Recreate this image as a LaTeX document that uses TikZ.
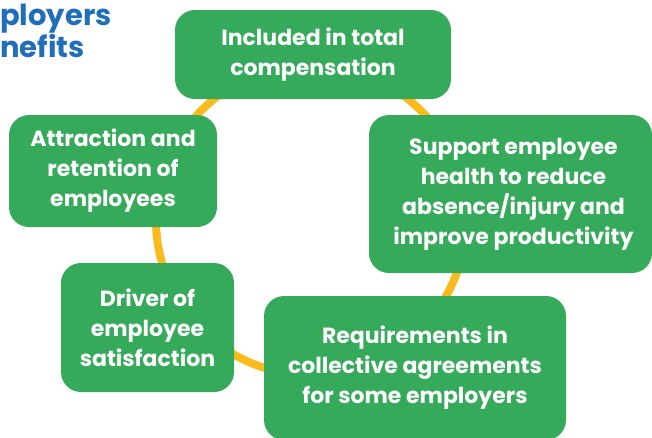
\documentclass[tikz,border=0pt]{standalone}
\usepackage{fontspec}
\setmainfont{Poppins}
\definecolor{boxgreen}{RGB}{52,170,90}
\definecolor{ringorange}{RGB}{251,186,30}
\definecolor{titleblue}{RGB}{31,110,185}
\begin{document}
\begin{tikzpicture}[x=1pt,y=-1pt,
  card/.style={fill=boxgreen, rounded corners=20pt, text=white, align=center,
    font=\fontsize{22}{30}\selectfont\bfseries, inner sep=0pt},
  ttl/.style={text=titleblue, font=\fontsize{29}{32}\selectfont\bfseries, anchor=base west, inner sep=0pt}]
\useasboundingbox (0,0) rectangle (652,437);
\clip (0,0) rectangle (652,437);
\node[ttl] (t1) at (0,25) {ployers};
\node[ttl] (t2) at (0,57) {nefits};
\draw[ringorange, line width=8pt] (311,220) circle[radius=155];
\node[card, minimum width=276pt, minimum height=89pt] (top) at (313,54.5) {Included in total\\compensation};
\node[card, minimum width=208pt, minimum height=112pt] (attr) at (113,171) {Attraction and\\retention of\\employees};
\node[card, minimum width=283pt, minimum height=158pt] (supp) at (510.5,194) {\hspace*{6pt}Support employee\\\hspace*{6pt}health to reduce\\\hspace*{6pt}absence/injury and\\\hspace*{6pt}improve productivity};
\node[card, minimum width=173pt, minimum height=129pt] (drv) at (147.5,327.5) {Driver of\\employee\\satisfaction};
\node[card, minimum width=302pt, minimum height=144pt] (req) at (415,368) {Requirements in\\collective agreements\\for some employers};
\end{tikzpicture}
\end{document}
